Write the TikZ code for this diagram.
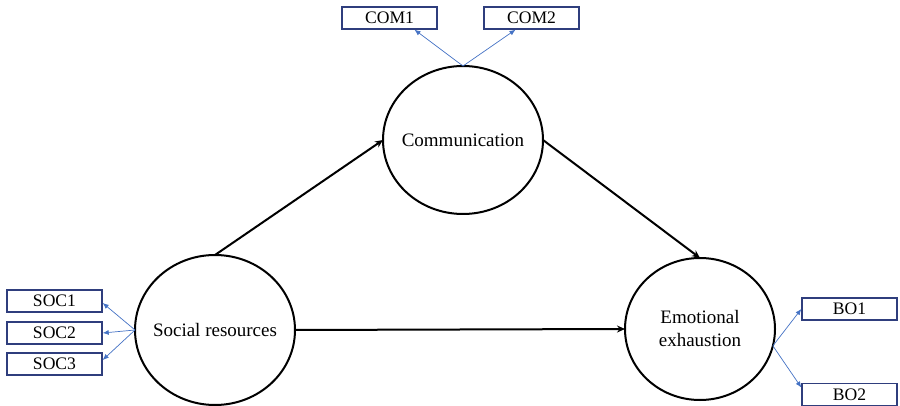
\documentclass[tikz,border=0pt]{standalone}
\usepackage{fontspec}
\setmainfont{Liberation Serif}
\usetikzlibrary{shapes.geometric,arrows.meta}
\definecolor{boxblue}{RGB}{47,62,125}
\definecolor{linkblue}{RGB}{68,114,196}
\tikzset{
  latent/.style={draw=black, line width=1pt, ellipse, inner sep=0pt, outer sep=0pt},
  latentlabel/.style={font=\fontsize{9.5}{11.5}\selectfont, align=center, inner sep=0pt},
  indicator/.style={draw=boxblue, line width=0.7pt, rectangle, minimum width=47.5pt,
    minimum height=11pt, inner sep=0pt, font=\fontsize{8.8}{10}\selectfont},
  path/.style={draw=black, line width=1pt, -{Stealth[length=4pt,width=3.5pt]}},
  load/.style={draw=linkblue, line width=0.35pt, -{Latex[length=3pt,width=2.5pt]}}
}
\begin{document}
\begin{tikzpicture}[x=0.5pt,y=-0.5pt]
\useasboundingbox (0,0) rectangle (900,406);
\node[latent, minimum width=80pt, minimum height=74pt,
  label={[latentlabel]center:Communication}] (comm) at (463,140) {};
\node[latent, minimum width=80pt, minimum height=75pt,
  label={[latentlabel]center:Social resources}] (soc) at (215,330) {};
\node[latent, minimum width=75pt, minimum height=71pt,
  label={[latentlabel]center:Emotional\\exhaustion}] (emo) at (700,329) {};
\node[indicator] (com1) at (389.5,18) {COM1};
\node[indicator] (com2) at (531.5,18) {COM2};
\node[indicator] (soc1) at (54.5,301) {SOC1};
\node[indicator] (soc2) at (54.5,333) {SOC2};
\node[indicator] (soc3) at (54.5,364) {SOC3};
\node[indicator] (bo1) at (849.5,309) {BO1};
\node[indicator] (bo2) at (849.5,394.5) {BO2};
\draw[path] (soc.north) -- (comm.west);
\draw[path] (comm.east) -- (emo.north);
\draw[path] (soc.east) -- (emo.west);
\draw[load] (comm.north) -- ([xshift=12.5pt]com1.south);
\draw[load] (comm.north) -- ([xshift=-8pt]com2.south);
\draw[load] (soc.west) -- ([yshift=-1pt]soc1.east);
\draw[load] (soc.west) -- (soc2.east);
\draw[load] (soc.west) -- ([yshift=2pt]soc3.east);
\draw[load] (emo.-13) -- (bo1.west);
\draw[load] (emo.-13) -- ([yshift=3.5pt]bo2.west);
\end{tikzpicture}
\end{document}
